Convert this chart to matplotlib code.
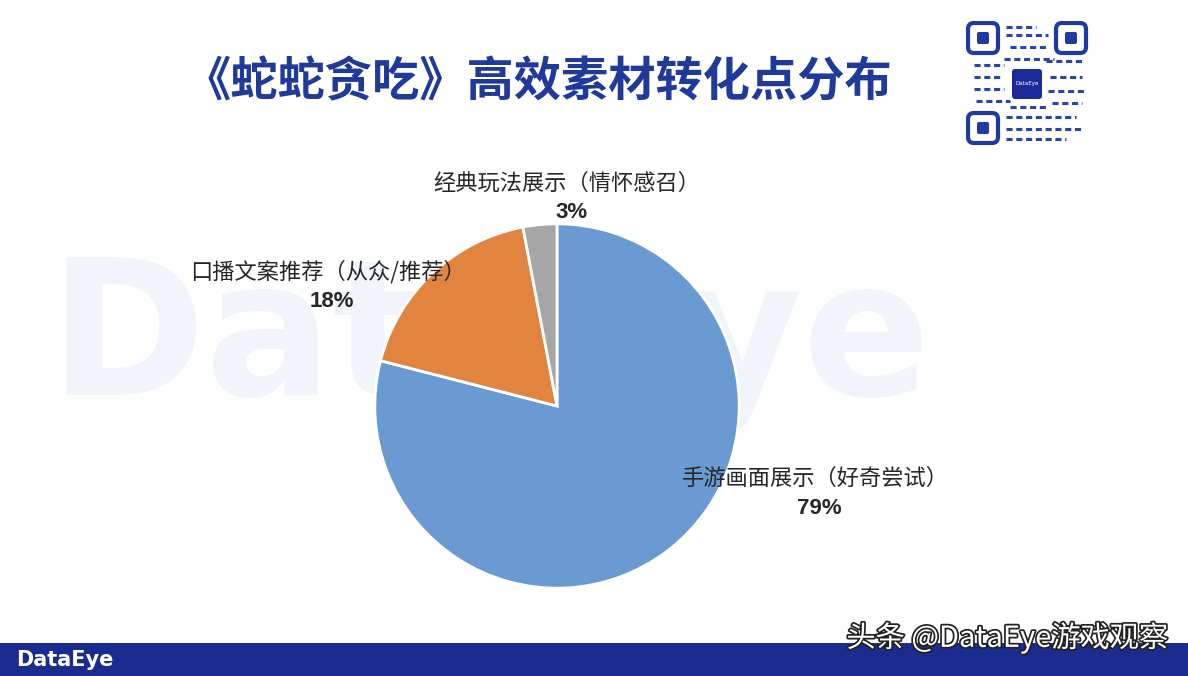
import matplotlib.pyplot as plt
import matplotlib.patches as patches
import matplotlib.patheffects as pe

plt.rcParams['font.family'] = ['Noto Sans CJK SC', 'DejaVu Sans']

# data
categories = ['手游画面展示（好奇尝试）', '口播文案推荐（从众/推荐）', '经典玩法展示（情怀感召）']
shares = [79, 18, 3]
colors = ['#6a9ad2', '#e0843f', '#a6a6a6']

W, H = 1188, 676
fig = plt.figure(figsize=(W / 100, H / 100), dpi=100)
fig.patch.set_facecolor('white')


def px(x, y):
    return x / W, 1 - y / H


# faint watermark behind everything
wm = fig.add_axes([0, 0, 1, 1], zorder=-5)
wm.set_xlim(0, W)
wm.set_ylim(H, 0)
wm.axis('off')
wm.text(490, 345, 'DataEye', fontsize=136, fontweight='bold',
        color='#f1f5fb', ha='center', va='center', family='DejaVu Sans')

# title
fig.text(*px(538, 82), '《蛇蛇贪吃》高效素材转化点分布', fontsize=34, fontweight='bold',
         color='#1f3a9a', ha='center', va='center')

# pie
ax = fig.add_axes([373 / W, 1 - 590 / H, 368 / W, 368 / H], zorder=0)
ax.set_facecolor('none')
ax.pie(shares, colors=colors, startangle=90, counterclock=False,
       wedgeprops=dict(edgecolor='white', linewidth=2))
ax.set_xlim(-1.01, 1.01)
ax.set_ylim(-1.01, 1.01)
ax.set_aspect('equal')
ax.axis('off')

label_pos = [(815, 478), (328, 272), (567, 183)]
for name, val, (x, y) in zip(categories, shares, label_pos):
    fig.text(*px(x, y), name, fontsize=16, color='#262626', ha='center', va='center', zorder=5)
    fig.text(*px(x + 4, y + 30), f'{val}%', fontsize=16, fontweight='bold', zorder=5,
             color='#262626', ha='center', va='center', family='Liberation Sans')

# QR code placeholder
qax = fig.add_axes([966 / W, 1 - 147 / H, 124 / W, 126 / H])
qax.set_xlim(0, 124)
qax.set_ylim(126, 0)
qax.axis('off')
for (x0, y0) in [(2, 2), (90, 2), (2, 92)]:
    qax.add_patch(patches.FancyBboxPatch((x0, y0), 30, 30, boxstyle='round,pad=0,rounding_size=6',
                                         facecolor='none', edgecolor='#1f3aa0', linewidth=3))
    qax.add_patch(patches.FancyBboxPatch((x0 + 9, y0 + 9), 12, 12, boxstyle='round,pad=0,rounding_size=2',
                                         facecolor='#1f3aa0', edgecolor='none'))
qax.add_patch(patches.FancyBboxPatch((46, 48), 30, 30, boxstyle='round,pad=0,rounding_size=3',
                                     facecolor='#1b2b9a', edgecolor='none'))
qax.text(61, 63, 'DataEye', fontsize=4, color='white', ha='center', va='center', family='DejaVu Sans')
rows = [(40, 6, 30), (40, 14, 42), (38, 38, 50), (80, 40, 36), (8, 44, 30), (8, 56, 28),
        (84, 56, 32), (8, 68, 30), (82, 70, 36), (44, 86, 36), (40, 96, 70), (40, 108, 76),
        (40, 118, 60), (44, 26, 36), (10, 80, 34), (86, 82, 30)]
for x0, y0, w in rows:
    qax.plot([x0, x0 + w], [y0, y0], color='#2a44a8', linewidth=2.2, linestyle=(0, (2, 1.2)))

# bottom band
band = fig.add_axes([0, 0, 1, 33 / H], zorder=2)
band.set_facecolor('#1a2c8e')
band.set_xticks([])
band.set_yticks([])
for s in band.spines.values():
    s.set_visible(False)
fig.text(*px(16, 660), 'DataEye', fontsize=15, fontweight='bold', color='white',
         ha='left', va='center', family='DejaVu Sans', zorder=5)
fig.text(*px(1168, 638), '头条 @DataEye游戏观察', fontsize=21, color='white',
         ha='right', va='center', zorder=5,
         path_effects=[pe.withStroke(linewidth=2.5, foreground='#222222')])

fig.savefig('out.png', dpi=100)
